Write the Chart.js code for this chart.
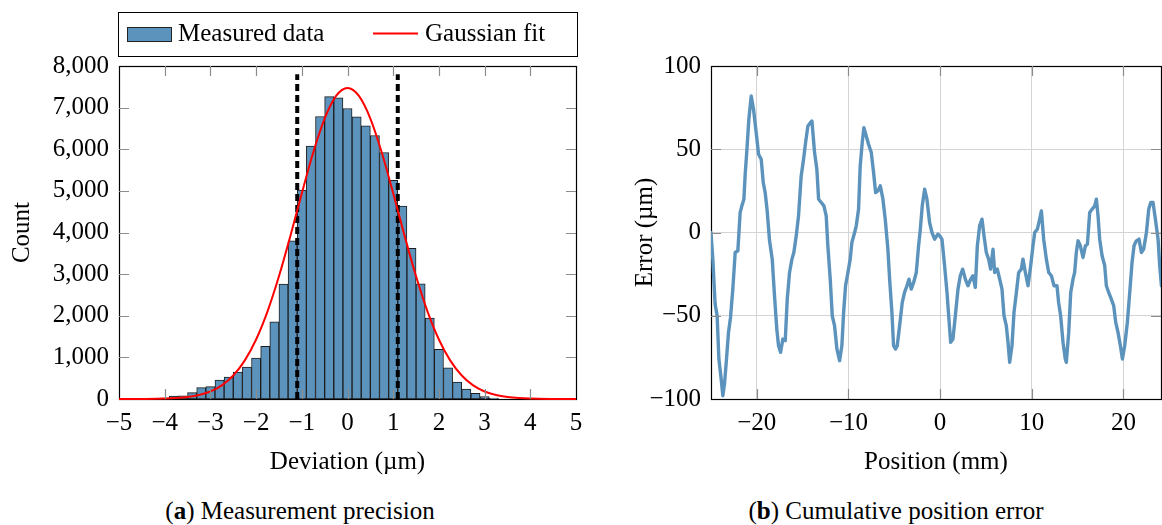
<!DOCTYPE html>
<html>
<head>
<meta charset="utf-8">
<title>Measurement precision and cumulative position error</title>
<script src="https://cdn.jsdelivr.net/npm/chart.js@4.4.1/dist/chart.umd.min.js"></script>
<style>
  html, body { margin: 0; padding: 0; background: #fff; }
  body { position: relative; width: 1162px; height: 525px; overflow: hidden;
         font-family: "Liberation Serif", "Times New Roman", serif; color: #000; }
  canvas { position: absolute; top: 0; }
  #precisionChart { left: 0; }
  #errorChart { left: 600px; }
  .caption { position: absolute; top: 496px; font-size: 25px; line-height: 30px; text-align: center; }
</style>
</head>
<body>
<canvas id="precisionChart" width="600" height="480"></canvas>
<canvas id="errorChart" width="562" height="480"></canvas>
<div class="caption" style="left:0;width:600px">(<b>a</b>) Measurement precision</div>
<div class="caption" style="left:630px;width:532px">(<b>b</b>) Cumulative position error</div>
<script>
// histogram: bin centres (µm) and counts
const binCenters = [
  -4.0, -3.8, -3.6, -3.4, -3.2, -3.0, -2.8, -2.6, -2.4, -2.2,
  -2.0, -1.8, -1.6, -1.4, -1.2, -1.0, -0.8, -0.6, -0.4, -0.2,
  0.0, 0.2, 0.4, 0.6, 0.8, 1.0, 1.2, 1.4, 1.6, 1.8,
  2.0, 2.2, 2.4, 2.6, 2.8, 3.0, 3.2
];
const counts = [
  25, 72, 75, 152, 272, 296, 456, 528, 647, 767,
  983, 1263, 1855, 2758, 3797, 5020, 6075, 6787, 7266, 7234,
  6978, 6779, 6563, 6331, 5923, 5252, 4636, 3621, 2766, 1942,
  1191, 751, 408, 240, 136, 56, 24
];

// gaussian fit curve
const fitX = [
  -5, -4.5, -4, -3.75, -3.5, -3.25, -3, -2.75, -2.5, -2.25,
  -2, -1.75, -1.5, -1.25, -1, -0.75, -0.5, -0.25, 0,
  0.25, 0.5, 0.75, 1, 1.25, 1.5, 1.75, 2, 2.25, 2.5,
  2.75, 3, 3.25, 3.5, 3.75, 4, 4.5, 5
];
const fitY = [
  0, 2, 10, 22, 47, 95, 181, 328, 565, 922,
  1430, 2107, 2948, 3917, 4941, 5921, 6737, 7280, 7470,
  7280, 6737, 5921, 4941, 3917, 2948, 2107, 1430, 922, 565,
  328, 181, 95, 47, 22, 10, 2, 0
];

// dashed markers at +/- one sigma
const sigmaLines = [-1.1, 1.1];
const sigmaTop = 7800;

// cumulative position error: position (mm) and error (µm)
const posMm = [
  -25.0, -24.8, -24.55, -24.33, -24.14, -23.89, -23.71, -23.53, -23.31, -23.09,
  -22.87, -22.62, -22.36, -22.07, -21.82, -21.63, -21.41, -21.27, -21.09, -20.87,
  -20.61, -20.36, -20.07, -19.81, -19.52, -19.3, -19.09, -18.87, -18.61, -18.32,
  -18.07, -17.82, -17.63, -17.41, -17.16, -16.9, -16.68, -16.43, -16.17, -15.96,
  -15.7, -15.45, -15.16, -14.9, -14.68, -14.43, -14.14, -13.99, -13.7, -13.45,
  -13.26, -12.97, -12.68, -12.43, -12.25, -11.99, -11.77, -11.52, -11.26, -10.97,
  -10.72, -10.53, -10.32, -10.06, -9.81, -9.63, -9.33, -9.15, -8.9, -8.72,
  -8.5, -8.32, -8.06, -7.81, -7.51, -7.26, -7.04, -6.79, -6.53, -6.24,
  -5.99, -5.7, -5.51, -5.26, -5.08, -4.86, -4.68, -4.42, -4.13, -3.88,
  -3.62, -3.4, -3.15, -2.89, -2.6, -2.35, -2.16, -1.95, -1.69, -1.44,
  -1.15, -0.89, -0.6, -0.24, -0.05, 0.2, 0.49, 0.75, 0.96, 1.15,
  1.4, 1.66, 1.95, 2.2, 2.46, 2.75, 3.04, 3.33, 3.58, 3.84,
  4.06, 4.31, 4.57, 4.79, 5.04, 5.29, 5.51, 5.77, 5.95, 6.24,
  6.5, 6.75, 6.97, 7.22, 7.41, 7.59, 7.84, 8.06, 8.32, 8.57,
  8.86, 9.04, 9.3, 9.59, 9.88, 10.13, 10.32, 10.61, 10.86, 11.05,
  11.3, 11.59, 11.85, 12.14, 12.43, 12.75, 12.93, 13.15, 13.41, 13.66,
  13.77, 14.03, 14.25, 14.5, 14.68, 14.86, 15.05, 15.3, 15.59, 15.85,
  16.07, 16.32, 16.58, 16.87, 17.05, 17.23, 17.41, 17.67, 17.96, 18.14,
  18.39, 18.68, 18.94, 19.16, 19.41, 19.67, 19.89, 20.14, 20.43, 20.69,
  20.94, 21.16, 21.41, 21.7, 21.96, 22.21, 22.51, 22.76, 22.98, 23.23,
  23.49, 23.78, 23.96, 24.15
];
const errUm = [
  0, -16, -43, -50, -76, -88, -98, -91, -76, -60,
  -51, -34, -12, -11, 12, 16, 20, 35, 49, 68,
  82, 74, 60, 47, 44, 30, 24, 13, -5, -16,
  -38, -58, -68, -72, -64, -65, -40, -24, -16, -12,
  -2, 10, 34, 44, 54, 64, 66, 67, 48, 38,
  20, 18, 16, 10, -8, -28, -50, -56, -70, -77,
  -68, -48, -32, -24, -16, -6, 0, 4, 14, 40,
  54, 63, 58, 53, 48, 36, 24, 25, 28, 20,
  8, -10, -28, -48, -68, -70, -68, -56, -42, -36,
  -32, -28, -34, -30, -24, -8, 2, 16, 26, 20,
  6, 0, -4, -1, -2, -4, -20, -36, -52, -66,
  -64, -50, -34, -26, -22, -28, -32, -28, -26, -33,
  -8, 4, 8, -2, -12, -16, -22, -10, -24, -22,
  -28, -34, -50, -56, -66, -78, -68, -48, -36, -24,
  -22, -16, -24, -32, -20, -8, 0, 2, 8, 13,
  -4, -16, -24, -26, -32, -32, -42, -50, -66, -76,
  -78, -60, -36, -28, -24, -12, -5, -8, -15, -8,
  -7, 12, 14, 16, 20, 10, -4, -14, -20, -32,
  -36, -40, -44, -54, -60, -68, -76, -68, -54, -36,
  -18, -8, -5, -4, -12, -10, 0, 14, 18, 18,
  8, -4, -20, -32
];

const FONT = '"Liberation Serif", "Times New Roman", serif';
const BLUE = '#5b93bd';
const minusLabel = v => (v < 0 ? '\u2212' + Math.abs(v) : String(v));

// black frame round the plot area, drawn under the data
const framePlugin = {
  id: 'frame',
  beforeDatasetsDraw(chart) {
    const { ctx, chartArea: a } = chart;
    ctx.save();
    ctx.strokeStyle = '#000';
    ctx.lineWidth = 1.2;
    ctx.strokeRect(Math.round(a.left) + 0.5, Math.round(a.top) + 0.5,
      Math.round(a.right - a.left), Math.round(a.bottom - a.top));
    ctx.restore();
  }
};

// short inward ticks on all four sides, drawn over the data
const innerTicks = {
  id: 'innerTicks',
  afterDatasetsDraw(chart) {
    const { ctx, chartArea: a, scales } = chart;
    const len = 10;
    ctx.save();
    ctx.strokeStyle = '#8c8c8c';
    ctx.lineWidth = 1.2;
    ctx.beginPath();
    scales.x.ticks.forEach(t => {
      if (t.value <= scales.x.min || t.value >= scales.x.max) return;
      const px = Math.round(scales.x.getPixelForValue(t.value)) + 0.5;
      ctx.moveTo(px, a.bottom); ctx.lineTo(px, a.bottom - len);
      ctx.moveTo(px, a.top); ctx.lineTo(px, a.top + len);
    });
    scales.y.ticks.forEach(t => {
      if (t.value <= scales.y.min || t.value >= scales.y.max) return;
      const py = Math.round(scales.y.getPixelForValue(t.value)) + 0.5;
      ctx.moveTo(a.left, py); ctx.lineTo(a.left + len, py);
      ctx.moveTo(a.right, py); ctx.lineTo(a.right - len, py);
    });
    ctx.stroke();
    ctx.restore();
  }
};

// boxed legend above the histogram
const boxLegend = {
  id: 'boxLegend',
  afterDraw(chart) {
    const { ctx, chartArea: a } = chart;
    const bars = chart.data.datasets[0];
    const fit = chart.data.datasets[1];
    const top = 12, h = 44, cy = top + h / 2 + 0.5;
    ctx.save();
    ctx.strokeStyle = '#000';
    ctx.lineWidth = 1;
    ctx.strokeRect(Math.round(a.left) - 0.5, top + 0.5, Math.round(a.right - a.left) + 2, h);

    ctx.fillStyle = bars.backgroundColor;
    ctx.fillRect(a.left + 8, cy - 7.5, 45, 15);
    ctx.strokeStyle = '#222';
    ctx.strokeRect(a.left + 8.5, cy - 7, 44, 14);

    ctx.strokeStyle = fit.borderColor;
    ctx.lineWidth = 2;
    ctx.beginPath();
    ctx.moveTo(a.left + 254, cy - 1); ctx.lineTo(a.left + 299, cy - 1);
    ctx.stroke();

    ctx.fillStyle = '#000';
    ctx.font = '25px ' + FONT;
    ctx.textBaseline = 'middle';
    ctx.fillText(bars.label, a.left + 59, cy);
    ctx.fillText(fit.label, a.left + 306, cy);
    ctx.restore();
  }
};

const tickFont = { family: FONT, size: 25 };
const titleFont = { family: FONT, size: 25 };

function initPrecisionChart() {
  const ctx = document.getElementById('precisionChart').getContext('2d');
  const sigmaSets = sigmaLines.map(s => ({
    type: 'line',
    label: 'sigma',
    data: [{ x: s, y: 0 }, { x: s, y: sigmaTop }],
    borderColor: '#000',
    borderWidth: 4,
    borderDash: [7, 4],
    pointRadius: 0,
    order: 1
  }));

  new Chart(ctx, {
    type: 'bar',
    data: {
      datasets: [
        {
          type: 'bar',
          label: 'Measured data',
          data: binCenters.map((c, i) => ({ x: c, y: counts[i] })),
          backgroundColor: BLUE,
          borderColor: '#1c1c1c',
          borderWidth: 1,
          borderSkipped: false,
          barPercentage: 1,
          categoryPercentage: 1,
          order: 2
        },
        {
          type: 'line',
          label: 'Gaussian fit',
          data: fitX.map((x, i) => ({ x: x, y: fitY[i] })),
          borderColor: '#ff0000',
          borderWidth: 2,
          pointRadius: 0,
          cubicInterpolationMode: 'monotone',
          clip: false,
          order: 0
        },
        ...sigmaSets
      ]
    },
    options: {
      responsive: false,
      animation: false,
      layout: { padding: { top: 66, right: 24, left: 0, bottom: 0 } },
      plugins: { legend: { display: false }, tooltip: { enabled: false } },
      scales: {
        x: {
          type: 'linear',
          min: -5, max: 5,
          offset: false,
          grid: { display: false, drawTicks: false, tickLength: 0 },
          border: { display: false },
          ticks: { stepSize: 1, autoSkip: false, maxRotation: 0, padding: 9,
                   color: '#000', font: tickFont, callback: minusLabel },
          title: { display: true, text: 'Deviation (\u00b5m)', color: '#000',
                   font: titleFont, padding: { top: 0, bottom: 3 } },
          afterFit(scale) { scale.height = 81; }
        },
        y: {
          min: 0, max: 8000,
          grid: { display: false, drawTicks: false, tickLength: 0 },
          border: { display: false },
          ticks: { stepSize: 1000, padding: 10, color: '#000', font: tickFont,
                   callback: v => v.toLocaleString('en-US') },
          title: { display: true, text: 'Count', color: '#000',
                   font: titleFont, padding: { top: 7, bottom: 0 } },
          afterFit(scale) { scale.width = 119; }
        }
      }
    },
    plugins: [framePlugin, innerTicks, boxLegend]
  });
}

function initErrorChart() {
  const ctx = document.getElementById('errorChart').getContext('2d');
  new Chart(ctx, {
    type: 'line',
    data: {
      datasets: [{
        label: 'Cumulative position error',
        data: posMm.map((x, i) => ({ x: x, y: errUm[i] })),
        borderColor: BLUE,
        borderWidth: 3.4,
        borderJoinStyle: 'round',
        borderCapStyle: 'round',
        pointRadius: 0,
        tension: 0
      }]
    },
    options: {
      responsive: false,
      animation: false,
      layout: { padding: { top: 66, right: 1, left: 0, bottom: 0 } },
      plugins: { legend: { display: false }, tooltip: { enabled: false } },
      scales: {
        x: {
          type: 'linear',
          min: -25, max: 24.1,
          grid: { color: '#d4d4d4', lineWidth: 1, drawTicks: false, tickLength: 0 },
          border: { display: false },
          ticks: { stepSize: 10, includeBounds: false, autoSkip: false, maxRotation: 0,
                   padding: 9, color: '#000', font: tickFont, callback: minusLabel },
          title: { display: true, text: 'Position (mm)', color: '#000',
                   font: titleFont, padding: { top: 0, bottom: 3 } },
          afterFit(scale) { scale.height = 81; }
        },
        y: {
          min: -100, max: 100,
          grid: { color: '#d4d4d4', lineWidth: 1, drawTicks: false, tickLength: 0 },
          border: { display: false },
          ticks: { stepSize: 50, padding: 10, color: '#000', font: tickFont,
                   callback: minusLabel },
          title: { display: true, text: 'Error (\u00b5m)', color: '#000',
                   font: titleFont, padding: { top: 30, bottom: 0 } },
          afterFit(scale) { scale.width = 111; }
        }
      }
    },
    plugins: [framePlugin, innerTicks]
  });
}

try {
  initPrecisionChart();
  initErrorChart();
} catch (e) {
  console.error('chart error:', e);
}
</script>
</body>
</html>
